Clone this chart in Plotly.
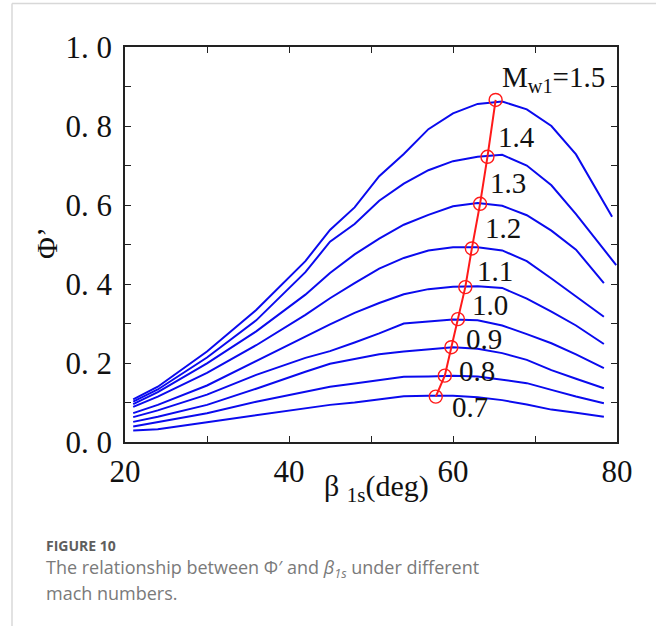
import plotly.graph_objects as go

# ---------------- data ----------------
mach = ["0.7", "0.8", "0.9", "1.0", "1.1", "1.2", "1.3", "1.4", "1.5"]
beta_common = [21, 24, 30, 36, 42, 45, 48, 51, 54, 57, 60, 63, 66, 69, 72, 75]
beta_end = {"0.7": 78.4, "0.8": 78.4, "0.9": 78.4, "1.0": 78.4, "1.1": 78.4,
            "1.2": 78.4, "1.3": 78.4, "1.4": 79.9, "1.5": 79.4}

phi_m07 = [0.029, 0.032, 0.050, 0.067, 0.085, 0.094, 0.100, 0.108, 0.116, 0.117, 0.117, 0.113, 0.106, 0.095, 0.082, 0.074, 0.064]
phi_m08 = [0.039, 0.050, 0.073, 0.102, 0.127, 0.140, 0.148, 0.157, 0.165, 0.166, 0.168, 0.166, 0.158, 0.149, 0.132, 0.115, 0.098]
phi_m09 = [0.051, 0.064, 0.094, 0.135, 0.178, 0.198, 0.210, 0.222, 0.229, 0.234, 0.240, 0.236, 0.225, 0.208, 0.182, 0.160, 0.136]
phi_m10 = [0.063, 0.080, 0.120, 0.170, 0.213, 0.230, 0.252, 0.275, 0.300, 0.305, 0.310, 0.308, 0.295, 0.273, 0.250, 0.222, 0.187]
phi_m11 = [0.073, 0.094, 0.143, 0.205, 0.268, 0.298, 0.327, 0.352, 0.374, 0.387, 0.393, 0.394, 0.390, 0.363, 0.330, 0.295, 0.248]
phi_m12 = [0.089, 0.115, 0.175, 0.245, 0.322, 0.364, 0.402, 0.439, 0.466, 0.485, 0.493, 0.493, 0.485, 0.458, 0.414, 0.368, 0.317]
phi_m13 = [0.096, 0.126, 0.199, 0.280, 0.373, 0.428, 0.475, 0.515, 0.550, 0.575, 0.597, 0.605, 0.598, 0.574, 0.535, 0.487, 0.402]
phi_m14 = [0.102, 0.133, 0.214, 0.308, 0.430, 0.507, 0.552, 0.611, 0.654, 0.688, 0.711, 0.722, 0.727, 0.700, 0.650, 0.577, 0.448]
phi_m15 = [0.108, 0.140, 0.229, 0.334, 0.458, 0.537, 0.594, 0.673, 0.729, 0.792, 0.832, 0.856, 0.862, 0.842, 0.800, 0.728, 0.570]
phi_series = [phi_m07, phi_m08, phi_m09, phi_m10, phi_m11, phi_m12, phi_m13, phi_m14, phi_m15]

# optimum points (red circles)
opt_beta = [57.9, 59.0, 59.8, 60.6, 61.5, 62.3, 63.3, 64.2, 65.2]
opt_phi = [0.115, 0.168, 0.240, 0.311, 0.392, 0.490, 0.603, 0.722, 0.866]

# curve label texts and positions
label_text = ["0.7", "0.8", "0.9", "1.0", "1.1", "1.2", "1.3", "1.4", "M<sub>w1</sub>=1.5"]
label_beta = [62.1, 62.9, 63.8, 64.5, 65.1, 66.1, 66.7, 67.8, 72.2]
label_phi = [0.089, 0.180, 0.261, 0.347, 0.433, 0.542, 0.656, 0.773, 0.919]

x_tickvals = [20, 30, 40, 50, 60, 70, 80]
x_ticktext = ["20", "", "40", "", "60", "", "80"]
y_tickvals = [0, 0.1, 0.2, 0.3, 0.4, 0.5, 0.6, 0.7, 0.8, 0.9, 1.0]
y_ticktext = ["0. 0", "", "0. 2", "", "0. 4", "", "0. 6", "", "0. 8", "", "1. 0"]

# ---------------- figure ----------------
SERIF = "Liberation Serif"
BLUE = "#0a0aee"
fig = go.Figure()

for m, phi in zip(mach, phi_series):
    fig.add_trace(go.Scatter(
        x=beta_common + [beta_end[m]], y=phi, mode="lines",
        line=dict(color=BLUE, width=2), showlegend=False, name="M=" + m))

fig.add_trace(go.Scatter(
    x=opt_beta, y=opt_phi, mode="lines+markers",
    line=dict(color="#ff1a1a", width=2),
    marker=dict(symbol="circle-open", size=13, color="#ff1a1a", line=dict(width=1.4)),
    showlegend=False))

W, H = 656, 626
ML, MR, MT, MB = 125, 39, 47, 184
PW, PH = W - ML - MR, H - MT - MB


def px(xp):
    return (xp - ML) / PW


def py(yp):
    return (MT + PH - yp) / PH


annotations = []
for t, bx, by in zip(label_text, label_beta, label_phi):
    annotations.append(dict(x=bx, y=by, xref="x", yref="y", text=t, showarrow=False,
                            font=dict(family=SERIF, size=29, color="#111"),
                            xanchor="center", yanchor="middle"))

annotations += [
    dict(x=px(376), y=py(488), xref="paper", yref="paper",
         text="β <sub>1s</sub>(deg)", showarrow=False,
         font=dict(family=SERIF, size=30, color="#111"), xanchor="center", yanchor="middle"),
    dict(x=px(46), y=py(243), xref="paper", yref="paper", text="Φ’", textangle=-90,
         showarrow=False, font=dict(family=SERIF, size=30, color="#111"),
         xanchor="center", yanchor="middle"),
    dict(x=px(44), y=py(545), xref="paper", yref="paper", text="<b>FIGURE 10</b>",
         showarrow=False, font=dict(family="Open Sans", size=14, color="#5e5e5e"),
         xanchor="left", yanchor="middle"),
    dict(x=px(44), y=py(568), xref="paper", yref="paper",
         text="The relationship between Φ′ and <i>β</i><sub><i>1s</i></sub> under different",
         showarrow=False, font=dict(family="Open Sans", size=18, color="#7a7a7a"),
         xanchor="left", yanchor="middle"),
    dict(x=px(44), y=py(593), xref="paper", yref="paper", text="mach numbers.",
         showarrow=False, font=dict(family="Open Sans", size=18, color="#7a7a7a"),
         xanchor="left", yanchor="middle"),
]

shapes = [
    dict(type="line", xref="paper", yref="paper", x0=px(12), x1=px(700), y0=py(3.5), y1=py(3.5),
         line=dict(color="#d8d8d8", width=1.5)),
    dict(type="line", xref="paper", yref="paper", x0=px(12), x1=px(12), y0=py(3.5), y1=py(700),
         line=dict(color="#d8d8d8", width=1.5)),
]

axis_common = dict(showline=True, linecolor="#222", linewidth=1.5, mirror="ticks",
                   ticks="inside", ticklen=6, tickwidth=1.3, tickcolor="#222",
                   showgrid=False, zeroline=False,
                   tickfont=dict(family=SERIF, size=31, color="#111"))

fig.update_layout(
    width=W, height=H, margin=dict(l=ML, r=MR, t=MT, b=MB),
    paper_bgcolor="white", plot_bgcolor="white",
    xaxis=dict(range=[20, 80], tickmode="array", tickvals=x_tickvals, ticktext=x_ticktext,
               ticklabelstandoff=1, **axis_common),
    yaxis=dict(range=[0, 1], tickmode="array", tickvals=y_tickvals, ticktext=y_ticktext,
               ticklabelstandoff=5, **axis_common),
    annotations=annotations, shapes=shapes, showlegend=False,
)

fig.write_html("out.html")
